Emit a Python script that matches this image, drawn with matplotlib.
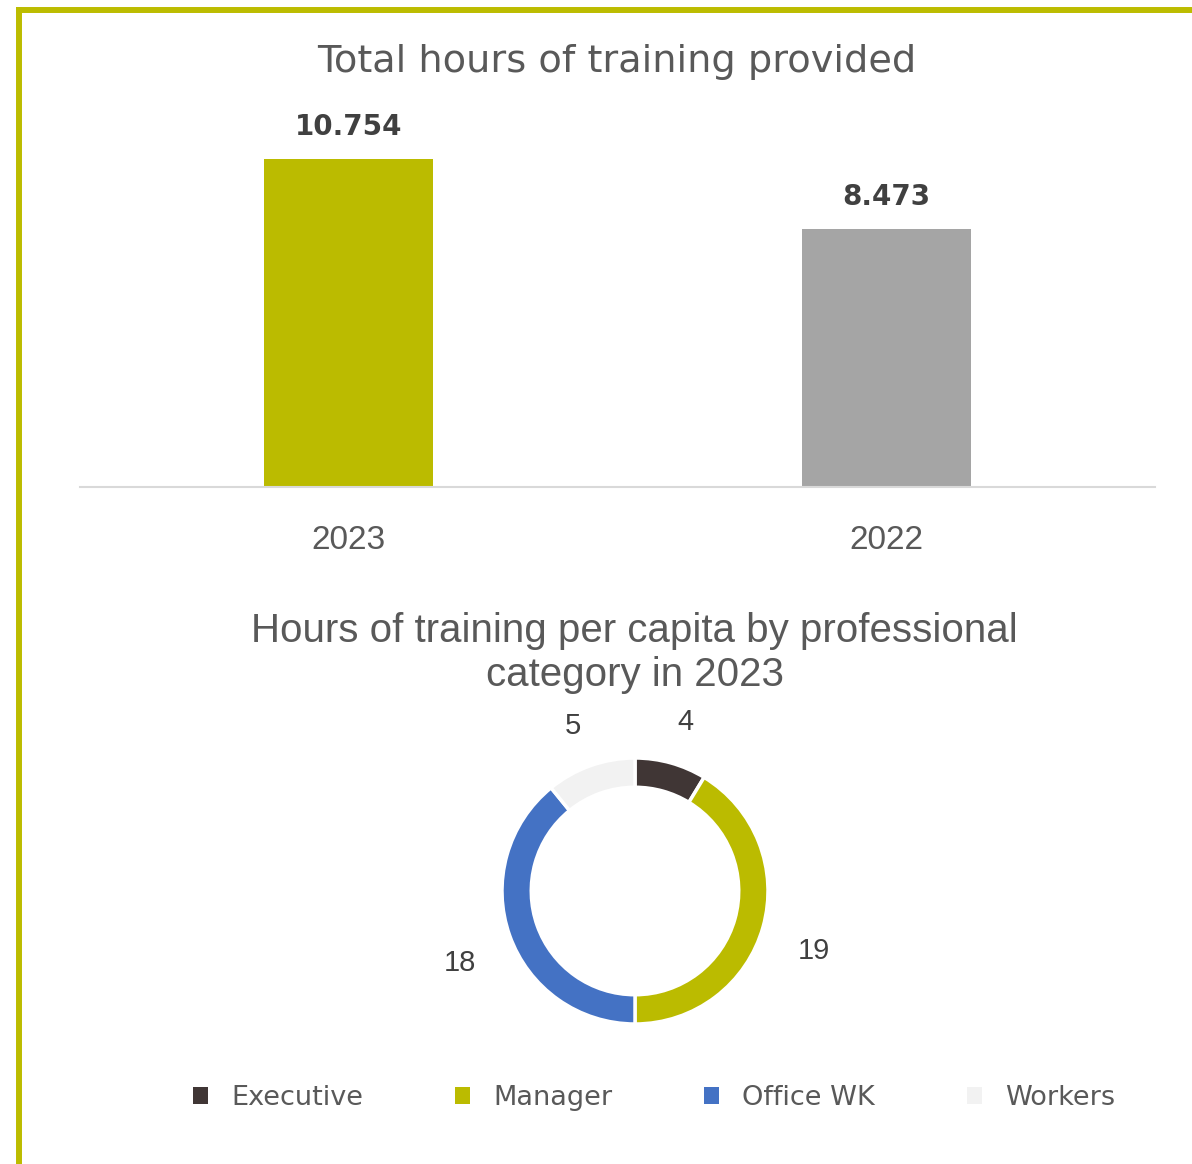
import matplotlib as M
M.use('agg')
import numpy as N
import matplotlib.pyplot as plt
from matplotlib.lines import Line2D
import matplotlib.transforms as mtransforms

# bar chart data
years = ['2023', '2022']
hours = [10754, 8473]
hour_labels = ['10.754', '8.473']
bar_colors = ['#BBBB00', '#A5A5A5']

# donut data
categories = ['Executive', 'Manager', 'Office WK', 'Workers']
per_capita = [4, 19, 18, 5]
donut_colors = ['#403635', '#BBBB00', '#4472C4', '#F2F2F2']

W, H = 1192, 1164
fig = plt.figure(figsize=(W/100., H/100.), dpi=100)

def px(x0, y0, x1, y1):
    # pixel box (top-left origin) -> figure fraction rect
    return [x0/W, 1 - y1/H, (x1 - x0)/W, (y1 - y0)/H]

# olive frame
olive = '#BCBC00'
fig.add_artist(Line2D([16/W, 1.0], [1 - 10/H, 1 - 10/H], color=olive, lw=4.3,
                      solid_capstyle='butt', transform=fig.transFigure))
fig.add_artist(Line2D([19/W, 19/W], [1 - 7/H, 0.0], color=olive, lw=4.3,
                      solid_capstyle='butt', transform=fig.transFigure))

# --- top: total hours bar chart
ax = fig.add_axes(px(80, 100, 1155, 487))
x = N.arange(len(years))
bars = ax.bar(x, hours, width=0.315, color=bar_colors)
ax.bar_label(bars, labels=hour_labels, padding=13, fontsize=20,
             fontweight='bold', color='#404040', family='DejaVu Sans')
ax.set_xlim(-0.5, 1.5)
ax.set_ylim(0, 12690)
ax.set_xticks(x)
ax.set_xticklabels(years, family='Liberation Sans', fontsize=24, color='#595959')
ax.tick_params(axis='x', length=0, pad=27)
ax.set_yticks([])
for s in ('top', 'right', 'left'):
    ax.spines[s].set_visible(False)
ax.spines['bottom'].set_color('#D9D9D9')
ax.spines['bottom'].set_linewidth(1.5)

fig.text(617/W, 1 - 62/H, 'Total hours of training provided', ha='center',
         va='center', fontsize=27.5, color='#595959', family='DejaVu Sans')

# --- bottom: donut
fig.text(634.5/W, 1 - 653/H,
         'Hours of training per capita by professional\ncategory in 2023',
         ha='center', va='center', fontsize=29, color='#595959',
         family='Liberation Sans', linespacing=1.22)

r = 133
cx, cy = 635, 891
ax2 = fig.add_axes(px(cx - 1.25*r, cy - 1.25*r, cx + 1.25*r, cy + 1.25*r))
wedges, texts = ax2.pie(per_capita, labels=[str(v) for v in per_capita],
                        colors=donut_colors, startangle=90, counterclock=False,
                        labeldistance=1.4,
                        wedgeprops=dict(width=0.22, edgecolor='white', linewidth=2.5),
                        textprops=dict(fontsize=21, color='#404040',
                                       family='Liberation Sans'))
shift = mtransforms.ScaledTranslation(0, -10/100., fig.dpi_scale_trans)
for t in texts:
    t.set_ha('center')
    t.set_va('center')
    t.set_transform(t.get_transform() + shift)

leg = fig.legend(wedges, categories, loc='center', ncol=4,
                 bbox_to_anchor=(654/W, 1 - 1098/H), frameon=False,
                 handlelength=0.55, handleheight=0.55, handletextpad=0.85,
                 columnspacing=3.4,
                 prop=dict(family='DejaVu Sans', size=19.5))
for t in leg.get_texts():
    t.set_color('#595959')
for h in leg.legend_handles:
    h.set_edgecolor('none')

fig.savefig('out.png', dpi=100)
plt.close(fig)
